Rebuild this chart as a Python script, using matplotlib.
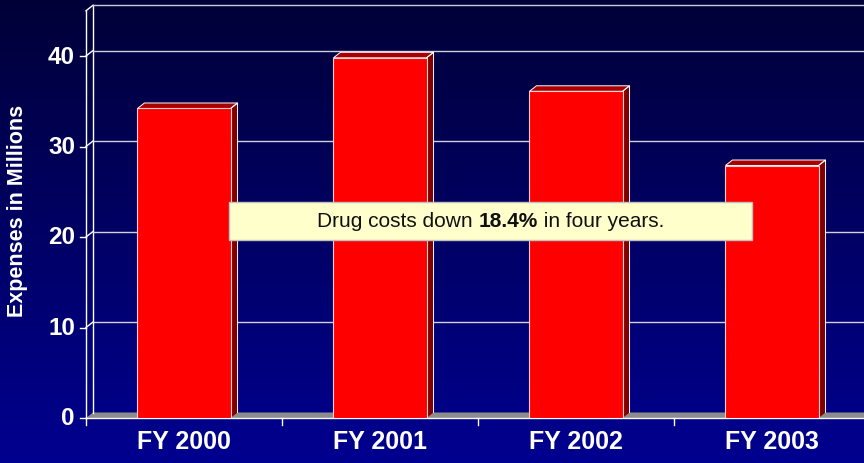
import numpy as np
import matplotlib.pyplot as plt
from matplotlib.patches import Polygon, Rectangle

# data
categories = ["FY 2000", "FY 2001", "FY 2002", "FY 2003"]
expenses = [34.2, 39.8, 36.1, 27.9]
y_ticks = [0, 10, 20, 30, 40]
note_parts = [("Drug costs down ", "normal"), ("18.4%", "bold"), (" in four years.", "normal")]

plt.rcParams["font.family"] = ["Liberation Sans", "DejaVu Sans"]

W, H = 864, 464
fig = plt.figure(figsize=(W / 100, H / 100), dpi=100)

# background gradient
bg = fig.add_axes([0, 0, 1, 1], zorder=-10)
grad = np.linspace(0, 1, 256).reshape(-1, 1)
top = np.array([0, 0, 0x38]) / 255
bot = np.array([0, 0, 0x90]) / 255
img = top + (bot - top) * grad[:, :, None]
bg.imshow(img, aspect="auto", extent=[0, 1, 0, 1])
bg.axis("off")

# plot area (front plane pixel geometry)
x0_px, y0_px = 86, 419
cat_px, unit_px = 196, 9.05
ymax = 45.6
ax = fig.add_axes([x0_px / W, (H - y0_px) / H, 4 * cat_px / W, ymax * unit_px / H])
ax.set_xlim(0, 4)
ax.set_ylim(0, ymax)
ax.axis("off")

dx = 7 / cat_px
dy = 5.5 / unit_px
wall_top = 45
line_kw = dict(color="white", lw=1.0, clip_on=False)

# floor
floor = Polygon([(0, 0), (4.2, 0), (4.2 + dx, dy), (dx, dy)], closed=True,
                facecolor="#8c8c8c", edgecolor="none", clip_on=False, zorder=1)
ax.add_patch(floor)
ax.plot([0, 4.2], [0, 0], **line_kw, zorder=2)

# walls: left side and back
ax.plot([0, 0], [0, wall_top], **line_kw, zorder=2)
ax.plot([dx, dx], [dy, wall_top + dy], **line_kw, zorder=2)
ax.plot([0, dx], [wall_top, wall_top + dy], **line_kw, zorder=2)
ax.plot([dx, 4.2], [wall_top + dy, wall_top + dy], color="#c8c8d8", lw=1.0,
        clip_on=False, zorder=2)

# gridlines and y ticks
for v in y_ticks:
    if v > 0:
        ax.plot([dx, 4.2], [v + dy, v + dy], color="#d0d0e0", lw=1.0, clip_on=False, zorder=2)
        ax.plot([0, dx], [v, v + dy], **line_kw, zorder=2)
    ax.plot([-6 / cat_px, 0], [v, v], **line_kw, zorder=2)
    ax.text(-11 / cat_px, v, str(v), ha="right", va="center", color="white",
            fontsize=17.5, fontweight="bold")

# x ticks
for i in range(5):
    ax.plot([i, i], [0, -7 / unit_px], **line_kw, zorder=2)

# bars with 3D faces
bw = 0.475
for i, (cat, val) in enumerate(zip(categories, expenses)):
    x1 = i + 0.5 - bw / 2
    x2 = x1 + bw
    side = Polygon([(x2, 0), (x2 + dx, dy), (x2 + dx, val + dy), (x2, val)], closed=True,
                   facecolor="#800000", edgecolor="none", zorder=4)
    topf = Polygon([(x1, val), (x2, val), (x2 + dx, val + dy), (x1 + dx, val + dy)], closed=True,
                   facecolor="#a80000", edgecolor="white", lw=0.7, zorder=4)
    front = Rectangle((x1, 0), bw, val, facecolor="#ff0000", edgecolor="#ffd0d0",
                      lw=0.8, zorder=5)
    ax.add_patch(side)
    ax.add_patch(topf)
    ax.add_patch(front)
    ax.plot([x2, x2 + dx, x2 + dx], [val, val + dy, dy], color="white", lw=0.7, zorder=4)
    ax.text(i + 0.5, -23 / unit_px, cat, ha="center", va="center", color="white",
            fontsize=18, fontweight="bold")

# y label
fig.text(18 / W, 1 - 211 / H, "Expenses in Millions", rotation=90, ha="center",
         va="center", color="white", fontsize=15.5, fontweight="bold")

# annotation box
bx1, bx2, by1, by2 = 229, 752, 203, 241
box = Rectangle((bx1 / W, 1 - by2 / H), (bx2 - bx1) / W, (by2 - by1) / H,
                transform=fig.transFigure, facecolor="#ffffcc", edgecolor="#c0c0c0",
                lw=1.0, zorder=20)
fig.add_artist(box)

renderer = fig.canvas.get_renderer()
texts = []
for s, wgt in note_parts:
    t = fig.text(0, 1 - 222 / H, s, ha="left", va="center", color="#101010",
                 fontsize=15, fontweight=wgt, zorder=21)
    texts.append(t)
widths = [t.get_window_extent(renderer).width for t in texts]
cx = (bx1 + bx2) / 2
x = cx - sum(widths) / 2
for t, w in zip(texts, widths):
    t.set_x(x / W)
    x += w

fig.savefig("out.png", dpi=100)
